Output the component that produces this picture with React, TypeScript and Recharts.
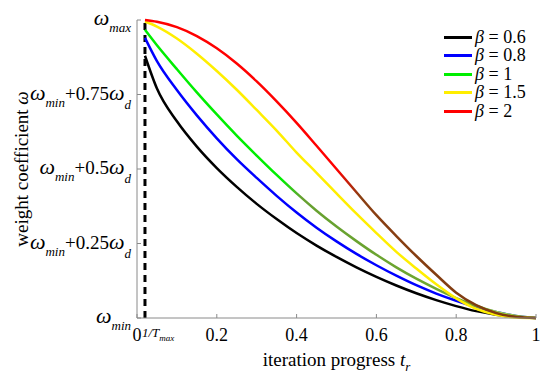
import React from "react";
import { LineChart, Line, XAxis, YAxis, ReferenceLine, Legend, Label } from "recharts";

// iteration progress t_r
const T = [0.02, 0.05, 0.1, 0.15, 0.2, 0.25, 0.3, 0.35, 0.4, 0.45, 0.5, 0.55, 0.6, 0.65, 0.7, 0.75, 0.8, 0.85, 0.9, 0.95, 1];

// weight coefficient (0 = w_min, 1 = w_max)
const W_B06 = [0.88, 0.77, 0.66, 0.575, 0.503, 0.44, 0.383, 0.332, 0.285, 0.243, 0.205, 0.17, 0.138, 0.109, 0.083, 0.06, 0.04, 0.023, 0.011, 0.003, 0];
const W_B08 = [0.94, 0.862, 0.765, 0.68, 0.603, 0.533, 0.47, 0.41, 0.354, 0.303, 0.257, 0.215, 0.177, 0.142, 0.11, 0.082, 0.058, 0.037, 0.02, 0.007, 0];
const W_B1 = [0.967, 0.915, 0.835, 0.757, 0.683, 0.612, 0.545, 0.48, 0.418, 0.36, 0.307, 0.258, 0.212, 0.17, 0.132, 0.098, 0.067, 0.041, 0.02, 0.007, 0];
const W_B15 = [0.995, 0.978, 0.938, 0.887, 0.829, 0.766, 0.698, 0.629, 0.555, 0.487, 0.418, 0.35, 0.285, 0.222, 0.166, 0.113, 0.066, 0.031, 0.011, 0.002, 0];
const W_B2 = [1.0, 0.994, 0.976, 0.946, 0.905, 0.854, 0.794, 0.727, 0.655, 0.578, 0.5, 0.422, 0.345, 0.275, 0.208, 0.145, 0.085, 0.043, 0.017, 0.004, 0];

const SERIES = [
  { key: "b06", beta: "0.6", color: "#000000", values: W_B06 },
  { key: "b08", beta: "0.8", color: "#0000ff", values: W_B08 },
  { key: "b1", beta: "1", color: "#00ee00", values: W_B1 },
  { key: "b15", beta: "1.5", color: "#ffee00", values: W_B15 },
  { key: "b2", beta: "2", color: "#ff0000", values: W_B2 },
];

const X_TICKS = [0, 0.2, 0.4, 0.6, 0.8, 1];
const Y_TICKS = [0, 0.25, 0.5, 0.75, 1];
const Y_TICK_COEF = ["", "+0.25", "+0.5", "+0.75", ""];
const T_INV = 0.02; // 1/T_max

const data = T.map((t, i) => {
  const row: Record<string, number> = { t };
  SERIES.forEach((s) => (row[s.key] = s.values[i]));
  return row;
});

const SERIF = '"Liberation Serif", "Times New Roman", serif';
const AXIS = "#8a8a8a";

// the source image shifts colour in the lower right (red -> brown, green -> olive)
const STROKE: Record<string, string> = {
  b06: "#000000",
  b08: "#0000ff",
  b1: "url(#gGreen)",
  b15: "#ffee00",
  b2: "url(#gRed)",
};

function YTick(props: any) {
  const { x, y, payload } = props;
  const i = Y_TICKS.indexOf(payload.value);
  const coef = Y_TICK_COEF[i];
  const sub = payload.value === 1 ? "max" : "min";
  return (
    <g>
      <line x1={x} x2={x + 4} y1={y} y2={y} stroke={AXIS} />
      <text x={x - 6} y={y + 5} textAnchor="end" fontFamily={SERIF} fontSize={19} fill="#000">
        <tspan fontStyle="italic" fontSize={22}>ω</tspan>
        <tspan fontStyle="italic" fontSize={13} dy={7}>{sub}</tspan>
        {coef ? (
          <>
            <tspan dy={-7}>{coef}</tspan>
            <tspan fontStyle="italic" fontSize={22}>ω</tspan>
            <tspan fontStyle="italic" fontSize={13} dy={9}>d</tspan>
          </>
        ) : null}
      </text>
    </g>
  );
}

function XTick(props: any) {
  const { x, y, payload } = props;
  return (
    <g>
      <line x1={x} x2={x} y1={y} y2={y - 4} stroke={AXIS} />
      <text x={x} y={y + 23} textAnchor="middle" fontFamily={SERIF} fontSize={18} fill="#000">
        {payload.value}
      </text>
    </g>
  );
}

function TmaxLabel(props: any) {
  const vb = props.viewBox || { x: 145, y: 20, height: 298 };
  return (
    <text x={vb.x - 3} y={vb.y + vb.height + 19} fontFamily={SERIF} fontSize={13} fontStyle="italic" fill="#000">
      1/T
      <tspan fontSize={9} dy={4}>max</tspan>
    </text>
  );
}

function XTitle(props: any) {
  const vb = props.viewBox || { x: 137, y: 318, width: 399 };
  return (
    <text x={vb.x + vb.width / 2} y={vb.y + 48} textAnchor="middle" fontFamily={SERIF} fontSize={19} fill="#000">
      iteration progress <tspan fontStyle="italic">t</tspan>
      <tspan fontStyle="italic" fontSize={13} dy={5}>r</tspan>
    </text>
  );
}

function YTitle(props: any) {
  const vb = props.viewBox || { y: 20, height: 298 };
  const cy = vb.y + vb.height / 2;
  return (
    <text
      x={28}
      y={cy}
      transform={`rotate(-90, 28, ${cy})`}
      textAnchor="middle"
      fontFamily={SERIF}
      fontSize={19}
      fill="#000"
    >
      weight coefficient <tspan fontStyle="italic">ω</tspan>
    </text>
  );
}

function LegendBox() {
  return (
    <div style={{ fontFamily: SERIF, fontSize: 18, color: "#000", background: "#fff" }}>
      {SERIES.map((s) => (
        <div key={s.key} style={{ display: "flex", alignItems: "center", height: 18.5 }}>
          <span style={{ display: "inline-block", width: 28, borderTop: `3px solid ${s.color}`, marginRight: 3 }} />
          <span>
            <i>β</i> = {s.beta}
          </span>
        </div>
      ))}
    </div>
  );
}

export default function App() {
  return (
    <div style={{ position: "absolute", left: 0, top: 0, width: 550, height: 382, background: "#fff" }}>
      <LineChart width={550} height={382} data={data} margin={{ top: 20, right: 14, bottom: 0, left: 0 }}>
        <defs>
          <linearGradient id="gRed" x1="0" y1="0" x2="1" y2="0">
            <stop offset="0.49" stopColor="#ff0000" />
            <stop offset="0.55" stopColor="#8a3f12" />
            <stop offset="1" stopColor="#7a3a10" />
          </linearGradient>
          <linearGradient id="gGreen" x1="0" y1="0" x2="1" y2="0">
            <stop offset="0.35" stopColor="#00ee00" />
            <stop offset="0.4" stopColor="#66a030" />
            <stop offset="0.84" stopColor="#70a830" />
            <stop offset="0.9" stopColor="#a0e040" />
          </linearGradient>
        </defs>
        <XAxis
          dataKey="t"
          type="number"
          domain={[0, 1]}
          ticks={X_TICKS}
          tick={<XTick />}
          tickLine={false}
          tickSize={0}
          tickMargin={0}
          height={64}
          stroke={AXIS}
          interval={0}
        >
          <Label content={<XTitle />} />
        </XAxis>
        <YAxis
          type="number"
          domain={[0, 1]}
          ticks={Y_TICKS}
          tick={<YTick />}
          tickLine={false}
          tickSize={0}
          tickMargin={0}
          width={137}
          stroke={AXIS}
          interval={0}
        >
          <Label content={<YTitle />} />
        </YAxis>
        <ReferenceLine
          x={T_INV}
          stroke="#000"
          strokeWidth={3}
          strokeDasharray="7 5"
          label={<TmaxLabel />}
        />
        {SERIES.map((s) => (
          <Line
            key={s.key}
            dataKey={s.key}
            type="monotone"
            stroke={STROKE[s.key]}
            strokeWidth={2.5}
            dot={false}
            isAnimationActive={false}
          />
        ))}
        <Legend
          layout="vertical"
          align="center"
          verticalAlign="middle"
          content={<LegendBox />}
          wrapperStyle={{ left: 444, top: 28, width: 100, height: "auto" }}
        />
      </LineChart>
    </div>
  );
}
